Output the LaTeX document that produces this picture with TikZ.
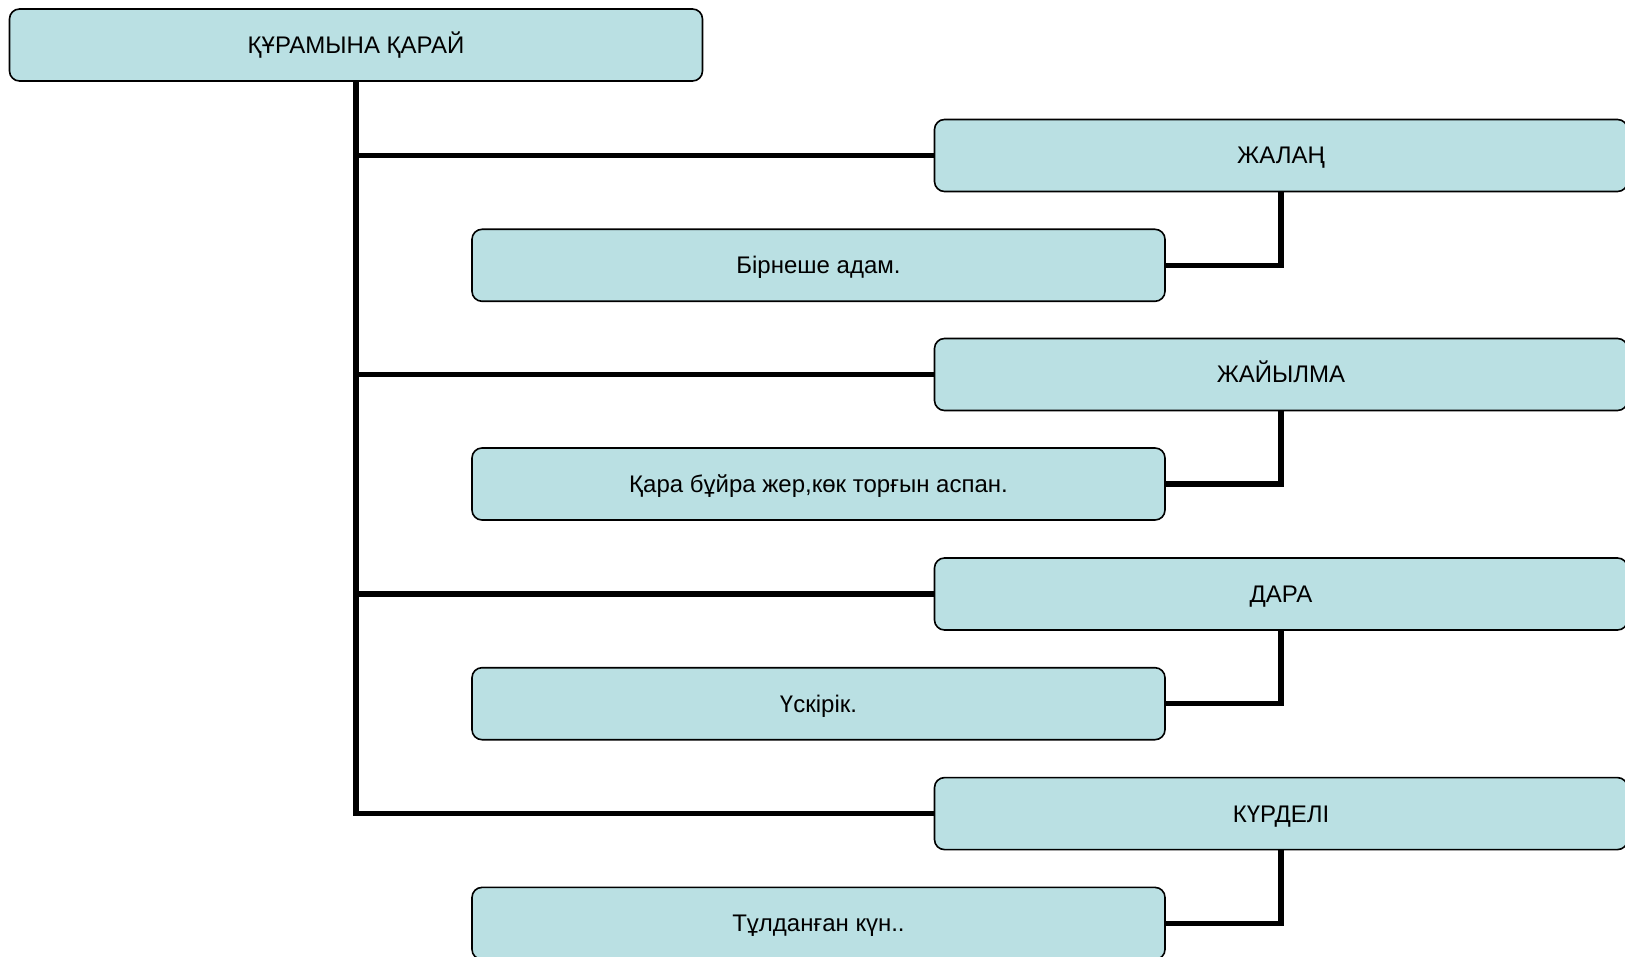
\documentclass[tikz,border=0pt]{standalone}
\usepackage{fontspec}
\setmainfont{Liberation Sans}
\definecolor{boxfill}{HTML}{BAE0E3}
\begin{document}
\begin{tikzpicture}[x=1pt,y=-1pt,
  box/.style={draw=black, line width=1.6pt, fill=boxfill, rounded corners=10pt,
    minimum width=693pt, minimum height=72pt, inner sep=0pt,
    text height=17pt, text depth=0pt,
    font=\fontsize{24}{28}\selectfont},
  conn/.style={line width=5.5pt, draw=black, line join=miter}]
\useasboundingbox (0,0) rectangle (1625,957);
\node[box] (root) at (356,45) {ҚҰРАМЫНА ҚАРАЙ};
\node[box] (k1) at (1281,155.5) {ЖАЛАҢ};
\node[box] (d1) at (818.5,265.3) {Бірнеше адам.};
\node[box] (k2) at (1281,374.5) {ЖАЙЫЛМА};
\node[box] (d2) at (818.5,484) {Қара бұйра жер,көк торғын аспан.};
\node[box] (k3) at (1281,594) {ДАРА};
\node[box] (d3) at (818.5,703.7) {Үскірік.};
\node[box] (k4) at (1281,813.6) {КҮРДЕЛІ};
\node[box] (d4) at (818.5,923.4) {Тұлданған күн..};
\draw[conn] (root.south) -- (root.south |- k4.west) -- (k4.west);
\draw[conn] (root.south |- k1.west) -- (k1.west);
\draw[conn] (root.south |- k2.west) -- (k2.west);
\draw[conn] (root.south |- k3.west) -- (k3.west);
\draw[conn] (k1.south) |- (d1.east);
\draw[conn] (k2.south) |- (d2.east);
\draw[conn] (k3.south) |- (d3.east);
\draw[conn] (k4.south) |- (d4.east);
\end{tikzpicture}
\end{document}
